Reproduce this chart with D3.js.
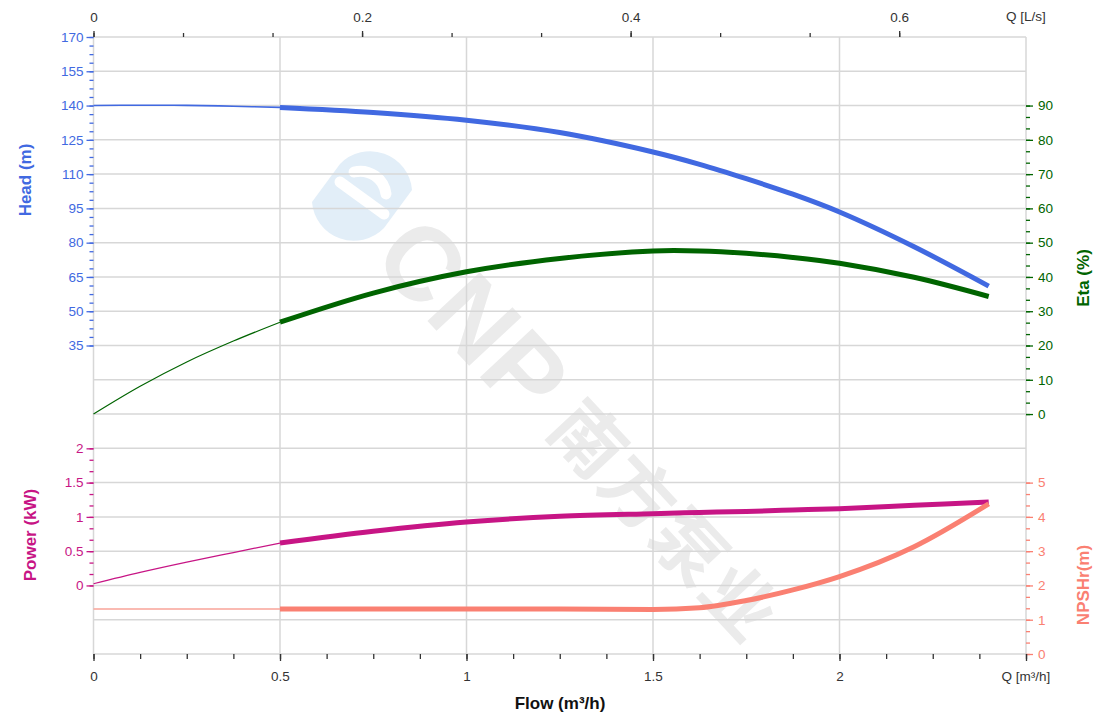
<!DOCTYPE html>
<html><head><meta charset="utf-8">
<script src="https://cdn.jsdelivr.net/npm/d3@7"></script>
<style>
body{margin:0;background:#fff;}
svg{display:block;font-family:"Liberation Sans",Arial,sans-serif;}
</style></head><body>
<svg id="chart" width="1120" height="718"></svg>
<script>
// ---- data ----
const flow   = [0, 0.125, 0.25, 0.375, 0.5, 0.75, 1.0, 1.25, 1.5, 1.625, 1.75, 1.875, 2.0, 2.2, 2.4];
const head   = [140.0, 140.15, 140.1, 139.7, 139.2, 137.0, 133.6, 128.2, 119.7, 114.3, 108.0, 101.2, 93.4, 78.2, 61.0];
const eta    = [0, 8.1, 15.2, 21.3, 26.8, 35.3, 41.5, 45.4, 47.6, 47.6, 46.9, 45.7, 44.0, 39.9, 34.3];
const power  = [0.025, 0.19, 0.34, 0.48, 0.618, 0.789, 0.925, 1.008, 1.047, 1.065, 1.08, 1.10, 1.12, 1.17, 1.217];
const npsh   = [1.31, 1.31, 1.31, 1.31, 1.31, 1.31, 1.31, 1.31, 1.30, 1.35, 1.56, 1.87, 2.26, 3.13, 4.38];
const dutyStart = 0.5;

const headTicks  = [35, 50, 65, 80, 95, 110, 125, 140, 155, 170];
const etaTicks   = [0, 10, 20, 30, 40, 50, 60, 70, 80, 90];
const powerTicks = [0, 0.5, 1, 1.5, 2];
const npshTicks  = [0, 1, 2, 3, 4, 5];
const flowTicks  = [0, 0.5, 1, 1.5, 2, 2.5];
const flowLsTicks = [0, 0.2, 0.4, 0.6];

const C = {head:"#4169E1", eta:"#006400", power:"#C71585", npsh:"#FA8072", grid:"#d7d7d7", axis:"#333"};

// ---- layout ----
const svg = d3.select("#chart");
const X0 = 93.5, X1 = 1026, Y0 = 37, Y1 = 654;
const x   = d3.scaleLinear().domain([0, 2.5]).range([X0, X1]);
const xLs = d3.scaleLinear().domain([0, 2.5 / 3.6]).range([X0, X1]);
const row = d3.scaleLinear().domain([0, 18]).range([Y0, Y1]);
const yHead = d3.scaleLinear().domain([35, 170]).range([row(9), row(0)]);
const yEta  = d3.scaleLinear().domain([0, 90]).range([row(11), row(2)]);
const yPow  = d3.scaleLinear().domain([0, 2]).range([row(16), row(12)]);
const yNpsh = d3.scaleLinear().domain([0, 5]).range([row(18), row(13)]);

// ---- watermark ----
const wmLogo = svg.append("g").attr("transform", "translate(362,196)");
wmLogo.append("path").attr("d", "M-50,6 L-22,-32 A42,42 0 0 1 50,-6 L22,32 A42,42 0 0 1 -50,6 Z")
  .attr("fill", "#e2eef8");
wmLogo.append("path").attr("d", "M-22,-14 L22,18 M-8,-24 A26,26 0 0 1 24,-2")
  .attr("fill", "none").attr("stroke", "#fff").attr("stroke-width", 11).attr("stroke-linecap", "round");
const wm = svg.append("g").attr("transform", "translate(362,196) rotate(47)");
wm.append("text").attr("x", 52).attr("dy", "0.36em").text("CNP")
  .attr("font-size", 104).attr("font-weight", "bold").attr("letter-spacing", 2).attr("fill", "#ebebeb");
wm.append("text").attr("x", 296).attr("dy", "0.37em").text("南方泵业")
  .attr("font-family", "'Noto Sans CJK SC',sans-serif").attr("font-size", 72).attr("font-weight", "bold")
  .attr("letter-spacing", 2).attr("fill", "#ebebeb");

// ---- grid ----
const grid = svg.append("g");
grid.selectAll(".h").data(d3.range(19)).join("line")
  .attr("x1", X0).attr("x2", X1).attr("y1", d => row(d)).attr("y2", d => row(d))
  .attr("stroke", C.grid).attr("stroke-width", 1.5);
grid.selectAll(".v").data(flowTicks).join("line")
  .attr("x1", d => x(d)).attr("x2", d => x(d)).attr("y1", Y0).attr("y2", Y1)
  .attr("stroke", C.grid).attr("stroke-width", 1.5);

// ---- axes ----
function styleAxis(g, color, textColor) {
  g.select(".domain").remove();
  g.selectAll(".tick line").attr("stroke", color).attr("stroke-width", 1.3);
  g.selectAll(".tick text").attr("fill", textColor || color).attr("font-size", 13.5)
    .attr("font-family", "'Liberation Sans',Arial,sans-serif");
}
function addAxis(axis, tr, color, textColor) {
  const g = svg.append("g").attr("transform", tr).call(axis);
  styleAxis(g, color, textColor);
  return g;
}
const fmt = d3.format("~g");
// left Head
addAxis(d3.axisLeft(yHead).tickValues(d3.range(35, 170.01, 3.75)).tickSize(4).tickFormat(""), `translate(${X0},0)`, C.head);
addAxis(d3.axisLeft(yHead).tickValues(headTicks).tickSize(7).tickPadding(3).tickFormat(fmt), `translate(${X0},0)`, C.head);
// left Power
addAxis(d3.axisLeft(yPow).tickValues(d3.range(0, 2.01, 1/6)).tickSize(4).tickFormat(""), `translate(${X0},0)`, C.power);
addAxis(d3.axisLeft(yPow).tickValues(powerTicks).tickSize(7).tickPadding(3).tickFormat(fmt), `translate(${X0},0)`, C.power);
// right Eta
addAxis(d3.axisRight(yEta).tickValues(d3.range(0, 90.01, 10/3)).tickSize(4).tickFormat(""), `translate(${X1},0)`, C.eta);
addAxis(d3.axisRight(yEta).tickValues(etaTicks).tickSize(7).tickPadding(5).tickFormat(fmt), `translate(${X1},0)`, C.eta);
// right NPSH
addAxis(d3.axisRight(yNpsh).tickValues(d3.range(0, 5.01, 1/3)).tickSize(4).tickFormat(""), `translate(${X1},0)`, C.npsh);
addAxis(d3.axisRight(yNpsh).tickValues(npshTicks).tickSize(7).tickPadding(5).tickFormat(fmt), `translate(${X1},0)`, C.npsh);
// bottom flow m3/h
addAxis(d3.axisBottom(x).tickValues(d3.range(0, 2.51, 0.125)).tickSize(5).tickFormat(""), `translate(0,${Y1})`, C.axis);
addAxis(d3.axisBottom(x).tickValues(flowTicks).tickSize(7).tickPadding(10).tickFormat(d => d === 2.5 ? "" : fmt(d)), `translate(0,${Y1})`, C.axis);
// top flow L/s
addAxis(d3.axisTop(xLs).tickValues(d3.range(0, 0.61, 0.2/3)).tickSize(4).tickFormat(""), `translate(0,${Y0})`, C.axis);
addAxis(d3.axisTop(xLs).tickValues(flowLsTicks).tickSize(6).tickPadding(9).tickFormat(fmt), `translate(0,${Y0})`, C.axis);

svg.append("text").attr("x", X1).attr("y", 681).attr("text-anchor", "middle").attr("font-size", 13.5).attr("fill", C.axis).text("Q [m³/h]");
svg.append("text").attr("x", X1).attr("y", 21).attr("text-anchor", "middle").attr("font-size", 13.5).attr("fill", C.axis).text("Q [L/s]");

// ---- axis titles ----
function vTitle(tx, ty, txt, color) {
  svg.append("text").attr("transform", `translate(${tx},${ty}) rotate(-90)`).attr("text-anchor", "middle")
    .attr("dy", "0.35em").attr("font-size", 17).attr("font-weight", "bold").attr("fill", color).text(txt);
}
vTitle(25, 180, "Head (m)", C.head);
vTitle(30, 535, "Power (kW)", C.power);
vTitle(1083, 278, "Eta (%)", C.eta);
vTitle(1083, 585, "NPSHr(m)", C.npsh);
svg.append("text").attr("x", 560).attr("y", 709).attr("text-anchor", "middle").attr("font-size", 17)
  .attr("font-weight", "bold").attr("fill", "#111").text("Flow (m³/h)");

// ---- curves ----
function drawCurve(vals, yScale, color, thinW, thinColor, curve) {
  const pts = flow.map((q, i) => ({q, v: vals[i]}));
  const line = d3.line().x(d => x(d.q)).y(d => yScale(d.v)).curve(curve || d3.curveCatmullRom.alpha(0.5));
  const g = svg.append("g").attr("fill", "none");
  g.append("path").attr("d", line(pts.filter(d => d.q <= dutyStart)))
    .attr("stroke", thinColor || color).attr("stroke-width", thinW);
  g.append("path").attr("d", line(pts.filter(d => d.q >= dutyStart)))
    .attr("stroke", color).attr("stroke-width", 5);
}
drawCurve(head, yHead, C.head, 1.6);
drawCurve(eta, yEta, C.eta, 1.2);
drawCurve(power, yPow, C.power, 1.2);
drawCurve(npsh, yNpsh, C.npsh, 1.5, "#f9a398", d3.curveMonotoneX);
</script>
</body></html>
